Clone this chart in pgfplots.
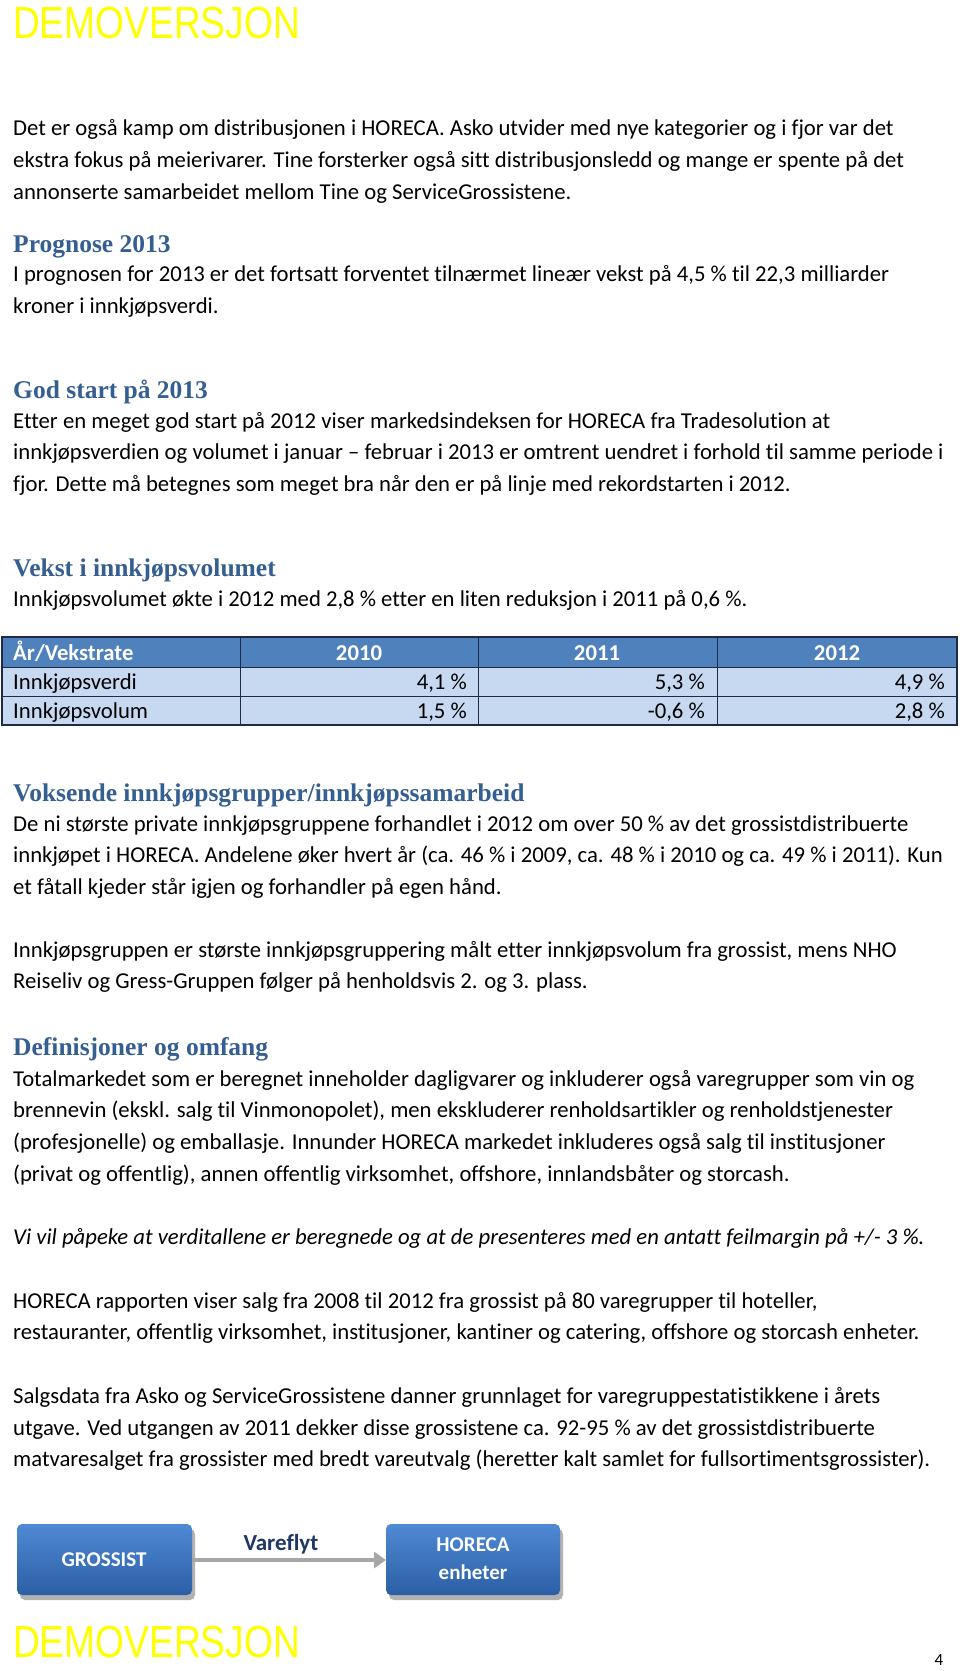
\documentclass[border=0pt]{standalone}
\usepackage{fontspec}
\setmainfont{Carlito}[Ligatures=NoCommon]
\newfontfamily\headfont{Liberation Serif}
\newfontfamily\demofont{Liberation Sans}
\usepackage{pgfplots}
\pgfplotsset{compat=1.18}
\usetikzlibrary{shadows,arrows.meta}
\definecolor{headblue}{HTML}{365F91}
\definecolor{thead}{HTML}{4F81BD}
\definecolor{tbody}{HTML}{C6D9F1}
\definecolor{tline}{HTML}{1F2A44}
\definecolor{demoyellow}{HTML}{FFFF00}
\definecolor{boxtop}{HTML}{4F8AD4}
\definecolor{boxbot}{HTML}{2B5FA5}
\definecolor{navy}{HTML}{1F3864}
\newcommand{\bodyfont}{\fontsize{22.7}{26}\selectfont}
\newcommand{\hfont}{\headfont\bfseries\fontsize{25.5}{29}\selectfont\color{headblue}}
\newcommand{\Ln}[2]{\node[anchor=base west,inner sep=0pt,font=\bodyfont] at (axis cs:13,#1) {#2};}
\newcommand{\Hd}[2]{\node[anchor=base west,inner sep=0pt,font=\hfont] at (axis cs:13,#1) {#2};}
\begin{document}
\begin{tikzpicture}
\begin{axis}[width=960pt,height=1671pt,scale only axis,
  xmin=0,xmax=960,ymin=0,ymax=1671,y dir=reverse,
  axis lines=none,clip=false]
\fill[white] (axis cs:0,0) rectangle (axis cs:960,1671);
% watermark
\node[anchor=base west,inner sep=0pt,xscale=0.825,font=\demofont\fontsize{45}{50}\selectfont,text=demoyellow] at (axis cs:13,38) {DEMOVERSJON};
\node[anchor=base west,inner sep=0pt,xscale=0.825,font=\demofont\fontsize{45}{50}\selectfont,text=demoyellow] at (axis cs:13,1657) {DEMOVERSJON};
\node[anchor=base,inner sep=0pt,font=\fontsize{17}{18}\selectfont] at (axis cs:939,1665) {4};
% body text
\Ln{135}{Det er også kamp om distribusjonen i HORECA. Asko utvider med nye kategorier og i fjor var det}
\Ln{167}{ekstra fokus på meierivarer. Tine forsterker også sitt distribusjonsledd og mange er spente på det}
\Ln{199}{annonserte samarbeidet mellom Tine og ServiceGrossistene.}
\Hd{252}{Prognose 2013}
\Ln{281}{I prognosen for 2013 er det fortsatt forventet tilnærmet lineær vekst på 4,5 \% til 22,3 milliarder}
\Ln{313}{kroner i innkjøpsverdi.}
\Hd{398}{God start på 2013}
\Ln{428}{Etter en meget god start på 2012 viser markedsindeksen for HORECA fra Tradesolution at}
\Ln{459}{innkjøpsverdien og volumet i januar – februar i 2013 er omtrent uendret i forhold til samme periode i}
\Ln{491}{fjor. Dette må betegnes som meget bra når den er på linje med rekordstarten i 2012.}
\Hd{576}{Vekst i innkjøpsvolumet}
\Ln{606}{Innkjøpsvolumet økte i 2012 med 2,8 \% etter en liten reduksjon i 2011 på 0,6 \%.}
% table
\fill[thead] (axis cs:2,637) rectangle (axis cs:957,667);
\fill[tbody] (axis cs:2,667) rectangle (axis cs:957,725);
\draw[tline,line width=1.2pt] (axis cs:2,637) rectangle (axis cs:957,725);
\draw[tline,line width=0.9pt] (axis cs:2,667) -- (axis cs:957,667);
\draw[tline,line width=0.9pt] (axis cs:2,696) -- (axis cs:957,696);
\draw[tline,line width=0.9pt] (axis cs:240,637) -- (axis cs:240,725);
\draw[tline,line width=0.9pt] (axis cs:478,637) -- (axis cs:478,725);
\draw[tline,line width=0.9pt] (axis cs:717,637) -- (axis cs:717,725);
\node[anchor=base west,inner sep=0pt,font=\bodyfont\bfseries,text=white] at (axis cs:13,660) {År/Vekstrate};
\node[anchor=base,inner sep=0pt,font=\bodyfont\bfseries,text=white] at (axis cs:359,660) {2010};
\node[anchor=base,inner sep=0pt,font=\bodyfont\bfseries,text=white] at (axis cs:597,660) {2011};
\node[anchor=base,inner sep=0pt,font=\bodyfont\bfseries,text=white] at (axis cs:837,660) {2012};
\node[anchor=base west,inner sep=0pt,font=\bodyfont] at (axis cs:13,689) {Innkjøpsverdi};
\node[anchor=base east,inner sep=0pt,font=\bodyfont] at (axis cs:467,689) {4,1 \%};
\node[anchor=base east,inner sep=0pt,font=\bodyfont] at (axis cs:705,689) {5,3 \%};
\node[anchor=base east,inner sep=0pt,font=\bodyfont] at (axis cs:945,689) {4,9 \%};
\node[anchor=base west,inner sep=0pt,font=\bodyfont] at (axis cs:13,718) {Innkjøpsvolum};
\node[anchor=base east,inner sep=0pt,font=\bodyfont] at (axis cs:467,718) {1,5 \%};
\node[anchor=base east,inner sep=0pt,font=\bodyfont] at (axis cs:705,718) {-0,6 \%};
\node[anchor=base east,inner sep=0pt,font=\bodyfont] at (axis cs:945,718) {2,8 \%};
% more text
\Hd{801}{Voksende innkjøpsgrupper/innkjøpssamarbeid}
\Ln{831}{De ni største private innkjøpsgruppene forhandlet i 2012 om over 50 \% av det grossistdistribuerte}
\Ln{862}{innkjøpet i HORECA. Andelene øker hvert år (ca. 46 \% i 2009, ca. 48 \% i 2010 og ca. 49 \% i 2011). Kun}
\Ln{894}{et fåtall kjeder står igjen og forhandler på egen hånd.}
\Ln{957}{Innkjøpsgruppen er største innkjøpsgruppering målt etter innkjøpsvolum fra grossist, mens NHO}
\Ln{988}{Reiseliv og Gress-Gruppen følger på henholdsvis 2. og 3. plass.}
\Hd{1055}{Definisjoner og omfang}
\Ln{1086}{Totalmarkedet som er beregnet inneholder dagligvarer og inkluderer også varegrupper som vin og}
\Ln{1117}{brennevin (ekskl. salg til Vinmonopolet), men ekskluderer renholdsartikler og renholdstjenester}
\Ln{1149}{(profesjonelle) og emballasje. Innunder HORECA markedet inkluderes også salg til institusjoner}
\Ln{1181}{(privat og offentlig), annen offentlig virksomhet, offshore, innlandsbåter og storcash.}
\Ln{1244}{\itshape Vi vil påpeke at verditallene er beregnede og at de presenteres med en antatt feilmargin på +/- 3 \%.}
\Ln{1308}{HORECA rapporten viser salg fra 2008 til 2012 fra grossist på 80 varegrupper til hoteller,}
\Ln{1339}{restauranter, offentlig virksomhet, institusjoner, kantiner og catering, offshore og storcash enheter.}
\Ln{1403}{Salgsdata fra Asko og ServiceGrossistene danner grunnlaget for varegruppestatistikkene i årets}
\Ln{1435}{utgave. Ved utgangen av 2011 dekker disse grossistene ca. 92-95 \% av det grossistdistribuerte}
\Ln{1466}{matvaresalget fra grossister med bredt vareutvalg (heretter kalt samlet for fullsortimentsgrossister).}
% diagram
\draw[draw=none,fill=black!30,rounded corners=5pt] (axis cs:20,1529) rectangle (axis cs:195,1600);
\draw[draw=none,fill=black!30,rounded corners=5pt] (axis cs:389,1529) rectangle (axis cs:563,1600);
\shade[top color=boxtop,bottom color=boxbot,rounded corners=5pt] (axis cs:17,1524) rectangle (axis cs:192,1595);
\shade[top color=boxtop,bottom color=boxbot,rounded corners=5pt] (axis cs:386,1524) rectangle (axis cs:560,1595);
\draw[black!35,line width=4.5pt,-{Triangle[length=12pt,width=16pt]}] (axis cs:192,1560) -- (axis cs:386,1560);
\node[inner sep=0pt,font=\fontsize{21}{24}\selectfont\bfseries,text=white] at (axis cs:104,1560) {GROSSIST};
\node[inner sep=0pt,font=\fontsize{21}{24}\selectfont\bfseries,text=white] at (axis cs:473,1545) {HORECA};
\node[inner sep=0pt,font=\fontsize{21}{24}\selectfont\bfseries,text=white] at (axis cs:473,1572) {enheter};
\node[inner sep=0pt,font=\fontsize{23}{26}\selectfont\bfseries,text=navy] at (axis cs:281,1544) {Vareflyt};
\end{axis}
\end{tikzpicture}
\end{document}
